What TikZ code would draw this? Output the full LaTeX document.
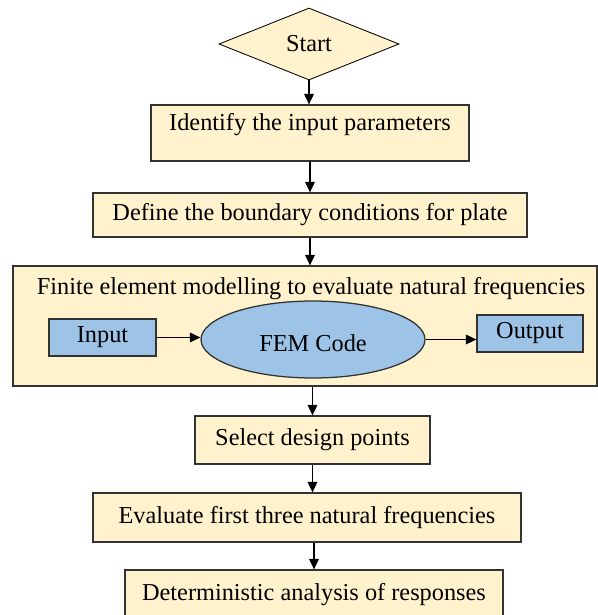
\documentclass[tikz,border=0pt]{standalone}
\usepackage{fontspec}
\setmainfont{Liberation Serif}
\usetikzlibrary{shapes.geometric,arrows.meta}
\definecolor{cream}{HTML}{FFF2CC}
\definecolor{skyblue}{HTML}{9DC3E6}
\definecolor{edge}{HTML}{333333}

\tikzset{
  stepbox/.style={draw=edge, line width=0.9pt, fill=cream, inner sep=0pt,
    font=\fontsize{17.3}{20}\selectfont},
  bluebox/.style={draw=edge, line width=0.9pt, fill=skyblue, inner sep=0pt,
    font=\fontsize{17.3}{20}\selectfont},
  flow/.style={-{Triangle[length=2.6mm,width=2.4mm]}, line width=0.9pt, draw=black}
}

\begin{document}
\begin{tikzpicture}
            \useasboundingbox (0,0) rectangle (14.95,15.375);
            \clip (0,0) rectangle (14.95,15.375);
            \node[stepbox, diamond, aspect=2.5, draw=black, line width=0.6pt, minimum width=4.5cm, minimum height=1.8cm] (start) at (7.725, 14.275) {Start};
            \node[stepbox, minimum width=7.95cm, minimum height=1.4cm, text depth=0.53cm] (identify) at (7.75, 12.05) {Identify the input parameters};
            \node[stepbox, minimum width=10.85cm, minimum height=1.1cm] (boundary) at (7.75, 10.0) {Define the boundary conditions for plate};
            \node[stepbox, minimum width=14.6cm, minimum height=3.0cm] (fem) at (7.625, 7.225) {};
            \node[font=\fontsize{17.3}{20}\selectfont, anchor=base] (femtitle) at (7.775, 8.0) {Finite element modelling to evaluate natural frequencies};
            \node[bluebox, minimum width=2.675cm, minimum height=0.925cm] (input) at (2.5625, 6.9375) {Input};
            \node[bluebox, ellipse, minimum width=5.6cm, minimum height=1.925cm, text height=0.6cm] (femcode) at (7.825, 6.8875) {FEM Code};
            \node[bluebox, minimum width=2.65cm, minimum height=0.925cm] (output) at (13.25, 7.0375) {Output};
            \node[stepbox, minimum width=5.875cm, minimum height=1.2cm] (design) at (7.8125, 4.375) {Select design points};
            \node[stepbox, minimum width=10.7cm, minimum height=1.225cm] (evaluate) at (7.675, 2.4375) {Evaluate first three natural frequencies};
            \node[stepbox, minimum width=9.45cm, minimum height=1.25cm] (responses) at (7.85, 0.5) {Deterministic analysis of responses};
            % vertical flow
            \draw[flow] (start.south) -- (start.south |- identify.north);
            \draw[flow] (identify.south) -- (identify.south |- boundary.north);
            \draw[flow] (boundary.south) -- (boundary.south |- fem.north);
            \draw[flow] (design.north |- fem.south) -- (design.north);
            \draw[flow] (design.south) -- (design.south |- evaluate.north);
            \draw[flow] (responses.north |- evaluate.south) -- (responses.north);
            % inside the FEM box
            \draw[flow] (input.east) -- (input.east -| femcode.west);
            \draw[flow] (femcode.east) -- (femcode.east -| output.west);
        \end{tikzpicture}
\end{document}
